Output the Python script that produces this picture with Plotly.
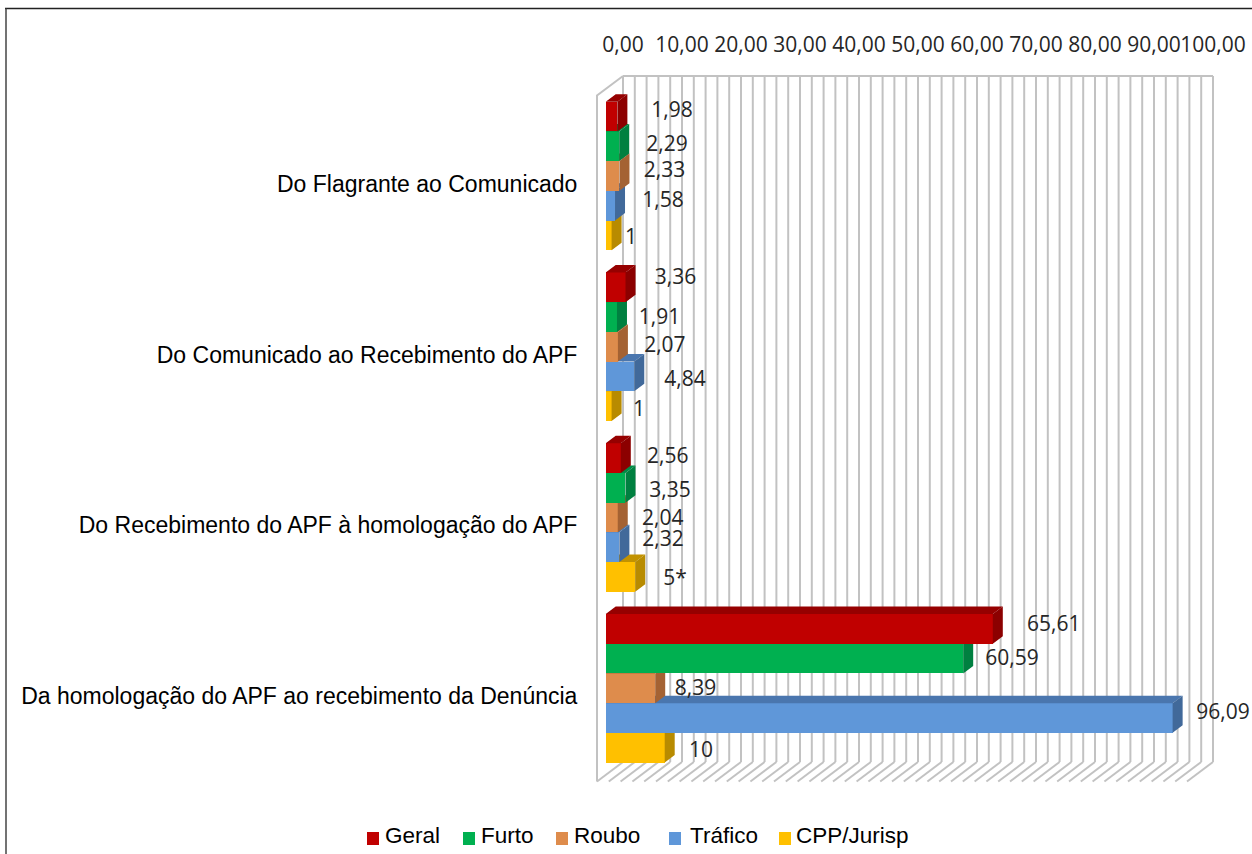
import plotly.graph_objects as go

W, H = 1252, 854

# ---- data ----
categories = ["Do Flagrante ao Comunicado", "Do Comunicado ao Recebimento do APF",
              "Do Recebimento do APF à homologação do APF",
              "Da homologação do APF ao recebimento da Denúncia"]
series_names = ["Geral", "Furto", "Roubo", "Tráfico", "CPP/Jurisp"]
geral = [1.98, 3.36, 2.56, 65.61]
furto = [2.29, 1.91, 3.35, 60.59]
roubo = [2.33, 2.07, 2.04, 8.39]
trafico = [1.58, 4.84, 2.32, 96.09]
cpp = [1, 1, 5, 10]
geral_txt = ["1,98", "3,36", "2,56", "65,61"]
furto_txt = ["2,29", "1,91", "3,35", "60,59"]
roubo_txt = ["2,33", "2,07", "2,04", "8,39"]
trafico_txt = ["1,58", "4,84", "2,32", "96,09"]
cpp_txt = ["1", "1", "5*", "10"]
tick_values = [0, 10, 20, 30, 40, 50, 60, 70, 80, 90, 100]

# ---- styles / layout numbers (pixels) ----
front_col = ["#C00000", "#00B050", "#DE8C4C", "#5F97D9", "#FFC000"]
side_col = ["#8C0000", "#008040", "#A46233", "#41699A", "#B88B00"]
top_col = ["#960000", "#008A45", "#B06A38", "#4A76AE", "#C29200"]
label_dx = [[54.6, 50, 47, 61], [47.8, 42.5, 44.5, 48.8], [45, 47, 45, 40.3],
            [48, 50.7, 43.6, 50.4], [19.4, 27.4, 39.8, 36.3]]
label_dy = [[-7.5, -11, -3.3, -5.3], [-3, -1, 1, -1], [-7, -2.7, -0.7, -0.7],
            [-6.6, 1.6, -9.4, -6.4], [0.7, 2, 0, 2]]
LABEL_SHIFT = 2.5
legend_swatch_px = [367, 463, 556, 669, 779]
legend_text_px = [384, 480, 573, 689, 795]
PX = 5.9            # px per value unit
SLOT = 29.7         # px per bar
GROUP = 5.75        # slots per group
Y0 = 101.7          # px of first bar's top
FRONT0, BACK0 = 605.7, 623.0
BAR_DX, BAR_DY = 10 / PX, 7.5 / SLOT
BACK_TOP, BACK_BOT = (76 - Y0) / SLOT, (762 - Y0) / SLOT
FLOOR_DX, FLOOR_DY = 26 / PX, 19.5 / SLOT
LABEL_Y = (183.5 - 175.7) / SLOT

all_vals = [geral, furto, roubo, trafico, cpp]
all_txt = [geral_txt, furto_txt, roubo_txt, trafico_txt, cpp_txt]

fig = go.Figure()

# ---- walls and floor, on the back axis ----
grid = [i * 2 for i in range(51)]
gx, gy = [], []
for v in grid:
    gx += [v, v, None, v, v - FLOOR_DX, None]
    gy += [BACK_TOP, BACK_BOT, None, BACK_BOT, BACK_BOT + FLOOR_DY, None]
gx += [0, 100, None, 0, -FLOOR_DX, -FLOOR_DX]
gy += [BACK_TOP, BACK_TOP, None, BACK_TOP, BACK_TOP + FLOOR_DY, BACK_BOT + FLOOR_DY]
fig.add_trace(go.Scatter(x=gx, y=gy, mode="lines", xaxis="x", yaxis="y", showlegend=False,
                         hoverinfo="skip", line=dict(color="#C2C2C2", width=2)))

# ---- bars, bottom series first so upper bars hide lower bars' tops ----
for k in reversed(range(5)):
    ax = f"x{6 - k}"     # x2 ... x6
    vals = all_vals[k]
    pos = [g * GROUP + k + 0.5 for g in range(4)]
    fig.add_trace(go.Bar(x=vals, y=pos, orientation="h", width=1, name=series_names[k], showlegend=False,
                         xaxis=ax, yaxis="y", marker=dict(color=front_col[k], line=dict(width=0)),
                         hovertemplate="%{x}<extra>" + series_names[k] + "</extra>"))
    tx, ty, sx, sy = [], [], [], []
    for v, p in zip(vals, pos):
        t, b = p - 0.5, p + 0.5
        tx += [0, BAR_DX, v + BAR_DX, v, 0, None]
        ty += [t, t - BAR_DY, t - BAR_DY, t, t, None]
        sx += [v, v + BAR_DX, v + BAR_DX, v, v, None]
        sy += [t, t - BAR_DY, b - BAR_DY, b, t, None]
    fig.add_trace(go.Scatter(x=tx, y=ty, fill="toself", fillcolor=top_col[k], mode="lines",
                             line=dict(width=0), xaxis=ax, yaxis="y", showlegend=False, hoverinfo="skip"))
    fig.add_trace(go.Scatter(x=sx, y=sy, fill="toself", fillcolor=side_col[k], mode="lines",
                             line=dict(width=0), xaxis=ax, yaxis="y", showlegend=False, hoverinfo="skip"))

# ---- value labels, on top ----
lx, ly, lt = [], [], []
for k in range(5):
    for g in range(4):
        lx.append(all_vals[k][g] + label_dx[k][g] / PX)
        ly.append(g * GROUP + k + 0.5 + (label_dy[k][g] + LABEL_SHIFT) / SLOT)
        lt.append(all_txt[k][g])
fig.add_trace(go.Scatter(x=lx, y=ly, text=lt, mode="text", xaxis="x7", yaxis="y", showlegend=False,
                         hoverinfo="skip", textposition="middle center", cliponaxis=False,
                         textfont=dict(family="Open Sans", size=21, color="#262626")))

back_range = [-BACK0 / PX, (W - BACK0) / PX]
front_range = [-FRONT0 / PX, (W - FRONT0) / PX]

shapes = [
    dict(type="line", xref="paper", yref="paper", x0=5 / W, x1=1, y0=1 - 8.5 / H, y1=1 - 8.5 / H,
         line=dict(color="#222222", width=1.5)),
    dict(type="line", xref="paper", yref="paper", x0=6 / W, x1=6 / W, y0=0, y1=1 - 8.5 / H,
         line=dict(color="#444444", width=1.5)),
]
annotations = []
for name, col, sx, tx in zip(series_names, front_col, legend_swatch_px, legend_text_px):
    shapes.append(dict(type="rect", xref="paper", yref="paper", x0=sx / W, x1=(sx + 12) / W,
                       y0=1 - 845 / H, y1=1 - 832 / H, fillcolor=col, line=dict(width=0)))
    annotations.append(dict(text=name, xref="paper", yref="paper", x=tx / W, y=1 - 835.5 / H, xanchor="left",
                            yanchor="middle", showarrow=False, borderpad=0,
                            font=dict(family="Liberation Sans", size=22.5, color="black")))

layout = dict(
    width=W, height=H, autosize=False, margin=dict(l=0, r=0, t=0, b=0),
    paper_bgcolor="white", plot_bgcolor="white", separators=",.", bargap=0,
    barmode="overlay", font=dict(family="Liberation Sans", color="black"), showlegend=False,
    xaxis=dict(domain=[0, 1], range=back_range, side="top", anchor="free", position=1 - 56 / H,
               tickmode="array", tickvals=tick_values, tickformat=".2f", tickangle=0, showgrid=False,
               zeroline=False, showline=False, ticks="",
               tickfont=dict(family="Open Sans", size=21, color="#262626")),
    yaxis=dict(domain=[0, 1], range=[(H - Y0) / SLOT, -Y0 / SLOT], anchor="free", position=597 / W,
               tickmode="array", tickvals=[g * GROUP + 2.5 + LABEL_Y for g in range(4)], ticktext=categories,
               showgrid=False, zeroline=False, showline=False, ticks="outside", ticklen=15,
               tickcolor="rgba(0,0,0,0)", tickfont=dict(family="Liberation Sans", size=23, color="black")),
    shapes=shapes,
    annotations=annotations,
)
for i in range(2, 8):
    layout[f"xaxis{i}"] = dict(domain=[0, 1], range=front_range, overlaying="x", visible=False, anchor="y")
fig.update_layout(**layout)
fig.write_html("out.html", config={"displayModeBar": False},
               post_script="document.body.style.margin='0';document.documentElement.style.overflow='hidden';")
